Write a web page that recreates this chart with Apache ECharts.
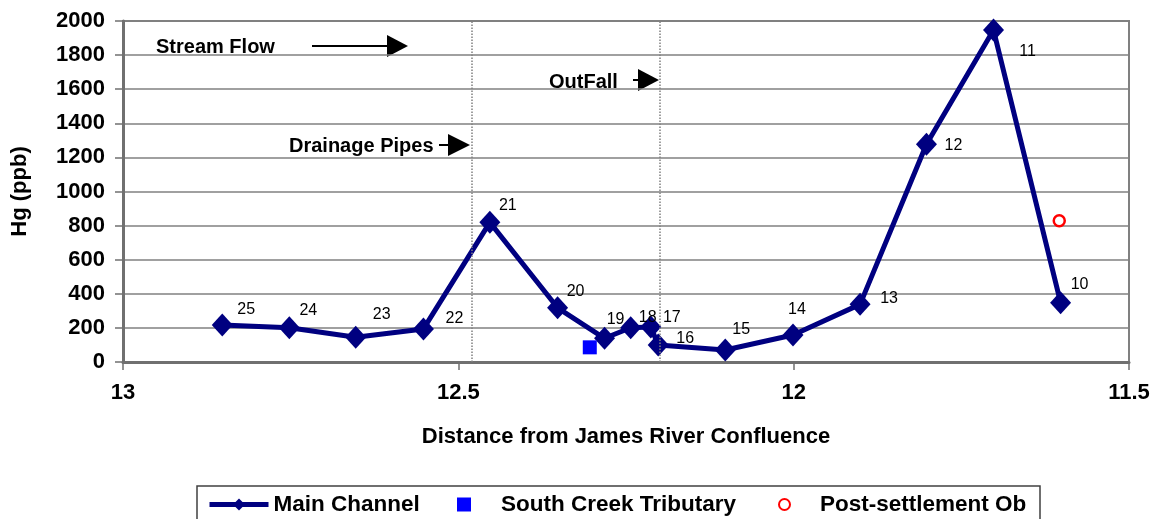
<!DOCTYPE html>
<html>
<head>
<meta charset="utf-8">
<script src="https://cdn.jsdelivr.net/npm/echarts@6/dist/echarts.min.js"></script>
<style>
html, body { margin: 0; padding: 0; background: #fff; }
#main { width: 1163px; height: 519px; }
</style>
</head>
<body>
<div id="main"></div>
<script>
// station numbers along the main channel
var stations = ['25', '24', '23', '22', '21', '20', '19', '18', '17', '16', '15', '14', '13', '12', '11', '10'];
// distance from confluence (miles) and Hg (ppb)
var mainDist = [12.852, 12.752, 12.653, 12.552, 12.453, 12.352, 12.282, 12.243, 12.213, 12.202, 12.102, 12.001, 11.901, 11.802, 11.702, 11.602];
var mainHg = [217, 201, 145, 194, 819, 318, 139, 201, 205, 100, 70, 158, 338, 1277, 1947, 348];
var southDist = [12.304];
var southHg = [86];
var postDist = [11.604];
var postHg = [829];
// dotted markers: drainage pipes, outfall
var markerDist = [12.478, 12.2];

// label placement relative to each diamond
var labelOffsets = [[24, -15], [19, -17], [26, -23], [31, -10], [18, -17], [18, -16], [11, -19], [17, -10],
	[21, -9], [27, -6], [16, -20], [4, -25], [29, -6], [27, 1], [34, 22], [19, -18]];

var font = 'Liberation Sans, Arial, sans-serif';

var mainData = [];
for (var i = 0; i < stations.length; i++) {
	mainData.push({
		value: [mainDist[i], mainHg[i]],
		name: stations[i],
		label: { offset: labelOffsets[i] }
	});
}
function pairs(xs, ys) {
	var out = [];
	for (var i = 0; i < xs.length; i++) out.push([xs[i], ys[i]]);
	return out;
}

// arrow = shaft + triangle head
function arrow(x1, x2, tip, y) {
	return [{
		type: 'line',
		shape: { x1: x1, y1: y, x2: x2, y2: y },
		style: { stroke: '#000', lineWidth: 2 }
	}, {
		type: 'polygon',
		shape: { points: [[x2, y - 11], [tip, y], [x2, y + 11]] },
		style: { fill: '#000' }
	}];
}
function note(text, x, y) {
	return {
		type: 'text',
		x: x, y: y,
		style: { text: text, font: 'bold 20px ' + font, fill: '#000', textVerticalAlign: 'middle' }
	};
}

var graphics = [
	note('Stream Flow', 156, 47),
	note('Drainage Pipes', 289, 146),
	note('OutFall', 549, 82),
	{
		type: 'rect',
		shape: { x: 197, y: 486, width: 843, height: 45 },
		style: { fill: 'none', stroke: '#404040', lineWidth: 1.5 }
	}
].concat(arrow(312, 387, 408, 46), arrow(439, 448, 470, 145), arrow(633, 638, 659, 80));

var chart = echarts.init(document.getElementById('main'));
var legendText = { fontFamily: font, fontWeight: 'bold', fontSize: 22.5, color: '#000' };
var legendTextPad = { fontFamily: font, fontWeight: 'bold', fontSize: 22.5, color: '#000', padding: [0, 0, 0, 25] };
chart.setOption({
	animation: false,
	grid: {
		left: 123, right: 34, top: 21, bottom: 157,
		show: true, borderColor: '#808080', borderWidth: 2
	},
	legend: [{
		data: ['Main Channel'], left: 207, top: 493, padding: 0,
		itemWidth: 59, itemHeight: 15, textStyle: legendText,
		lineStyle: { width: 5 }
	}, {
		data: ['South Creek Tributary'], left: 457, top: 493, padding: 0,
		itemWidth: 14, itemHeight: 14, textStyle: legendTextPad
	}, {
		data: ['Post-settlement Ob'], left: 778, top: 493, padding: 0,
		itemWidth: 11, itemHeight: 11, textStyle: legendTextPad
	}],
	xAxis: {
		type: 'value',
		min: 11.5, max: 13, interval: 0.5,
		inverse: true,
		name: 'Distance from James River Confluence',
		nameLocation: 'middle',
		nameGap: 64,
		nameTextStyle: { fontFamily: font, fontWeight: 'bold', fontSize: 22, color: '#000' },
		axisLine: { onZero: false, lineStyle: { color: '#707070', width: 3 } },
		axisTick: { show: true, length: 8, lineStyle: { color: '#707070', width: 1.5 } },
		axisLabel: { margin: 20, fontFamily: font, fontWeight: 'bold', fontSize: 22, color: '#000' },
		splitLine: { show: false }
	},
	yAxis: {
		type: 'value',
		min: 0, max: 2000, interval: 200,
		name: 'Hg (ppb)',
		nameLocation: 'middle',
		nameGap: 92,
		nameTextStyle: { fontFamily: font, fontWeight: 'bold', fontSize: 22, color: '#000' },
		axisLine: { show: true, lineStyle: { color: '#707070', width: 3 } },
		axisTick: { show: true, length: 8, lineStyle: { color: '#707070', width: 1.5 } },
		axisLabel: {
			margin: 18, fontFamily: font, fontWeight: 'bold', fontSize: 22, color: '#000',
			formatter: function (v) { return String(v); }
		},
		splitLine: { lineStyle: { color: '#808080', width: 1.5 } }
	},
	series: [{
		name: 'Main Channel',
		type: 'line',
		data: mainData,
		symbol: 'diamond',
		symbolSize: [21, 23],
		lineStyle: { color: '#000080', width: 5 },
		itemStyle: { color: '#000080' },
		label: {
			show: true,
			position: 'inside',
			formatter: '{b}',
			fontFamily: font,
			fontSize: 16,
			color: '#000'
		},
		markLine: {
			silent: true,
			symbol: 'none',
			label: { show: false },
			lineStyle: { type: 'dotted', color: '#808080', width: 1.5 },
			data: markerDist.map(function (d) { return { xAxis: d }; })
		},
		z: 3
	}, {
		name: 'South Creek Tributary',
		type: 'scatter',
		data: pairs(southDist, southHg),
		symbol: 'rect',
		symbolSize: 14,
		itemStyle: { color: '#0000FF', opacity: 1 },
		z: 4
	}, {
		name: 'Post-settlement Ob',
		type: 'scatter',
		data: pairs(postDist, postHg),
		symbol: 'circle',
		symbolSize: 11,
		itemStyle: { color: '#fff', borderColor: '#FF0000', borderWidth: 2.5, opacity: 1 },
		z: 4
	}],
	graphic: graphics
});
</script>
</body>
</html>
